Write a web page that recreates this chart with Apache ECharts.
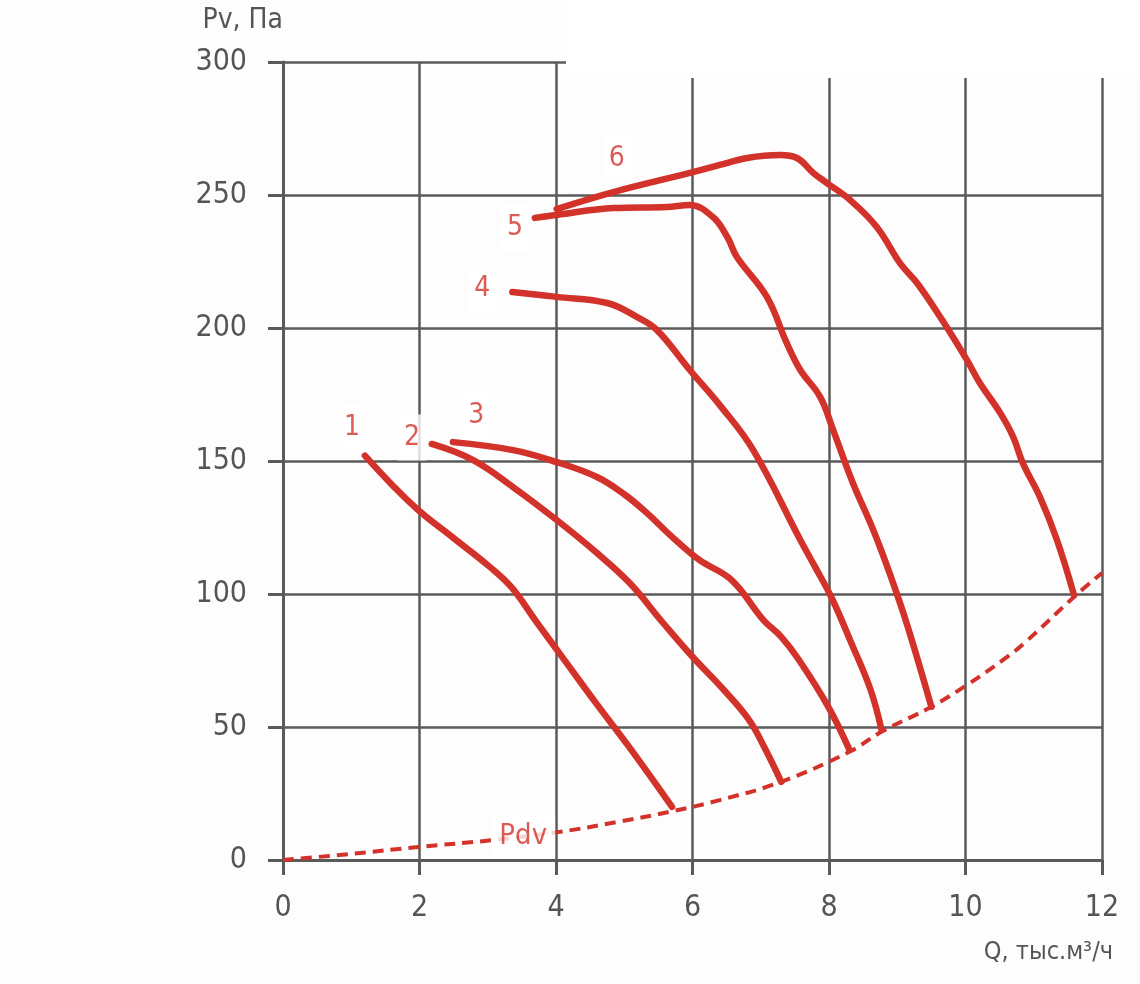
<!DOCTYPE html>
<html>
<head>
<meta charset="utf-8">
<script src="https://cdn.jsdelivr.net/npm/echarts@6/dist/echarts.min.js"></script>
<style>
  html, body { margin: 0; padding: 0; background: #fdfdfd; }
  #chart { width: 1140px; height: 984px; }
</style>
</head>
<body>
<div id="chart"></div>
<script>
// Кривые характеристики, Q (тыс.м3/ч) / Pv (Па)
const curve1 = [[1.2, 152], [1.6, 141], [1.98, 131.6], [2.5, 121], [3.03, 110.2], [3.35, 102.5], [3.7, 90], [4.1, 76], [4.6, 58.5], [5.1, 41.5], [5.7, 20]];
const curve2 = [[2.18, 156.4], [2.78, 150.4], [3.37, 140.2], [4.01, 127.8], [4.6, 115.4], [5.08, 104.1], [5.57, 89.1], [6.0, 76.4], [6.46, 63.9], [6.83, 52.6], [7.06, 42], [7.3, 29.4]];
const curve3 = [[2.49, 157.1], [3.37, 154.1], [4.01, 149.6], [4.6, 144], [5.0, 137.5], [5.33, 130.5], [5.7, 121.5], [6.1, 112.8], [6.57, 105.3], [7.04, 90.2], [7.3, 83.9], [7.56, 75.2], [7.99, 57.6], [8.3, 41.4]];
const curve4 = [[3.36, 213.5], [4.01, 211.7], [4.75, 209.4], [5.19, 204.1], [5.48, 199.2], [5.96, 184.2], [6.4, 171], [6.89, 154.1], [7.58, 120.3], [7.8, 110], [8.04, 98.5], [8.33, 81.4], [8.61, 63.9], [8.77, 48.9]];
const curve5 = [[3.69, 241.4], [4.01, 242.5], [4.84, 245.1], [5.62, 245.5], [5.96, 246.2], [6.3, 241.7], [6.51, 234.2], [6.65, 226.7], [7.09, 211.7], [7.38, 194.4], [7.58, 184.2], [7.87, 174.1], [8.06, 161.7], [8.35, 141.7], [8.65, 124], [8.9, 107], [9.15, 88], [9.5, 57.6]];
const curve6 = [[4.01, 244.7], [4.84, 251.1], [5.96, 258.3], [6.4, 261.3], [6.8, 263.9], [7.28, 265], [7.53, 263.9], [7.77, 258.3], [7.97, 254.5], [8.31, 248.1], [8.7, 238], [9.04, 224.4], [9.29, 216.9], [9.63, 204.1], [10.02, 188], [10.21, 179.3], [10.51, 168], [10.7, 159], [10.84, 149.2], [11.09, 136.5], [11.34, 120.3], [11.59, 99.6]];
const pdv = [[0, 0], [1, 2.3], [1.98, 4.9], [3.08, 7.5], [4.06, 10.6], [4.9, 14.3], [5.68, 18.2], [6.41, 22.6], [7.3, 29.4], [8.3, 40.7], [8.77, 48.2], [9.5, 57.6], [10.02, 65.8], [10.55, 75.2], [10.86, 81.5], [11.62, 99.6], [12, 107.9]];

const curveNames = ['1', '2', '3', '4', '5', '6', 'Pdv'];
const labelPos = [[1.01, 162.6], [1.89, 158.8], [2.83, 166.9], [2.92, 214.7], [3.4, 237.6], [4.89, 263.5], [3.52, 9.0]];

const xTicks = [0, 2, 4, 6, 8, 10, 12];
const yTicks = [0, 50, 100, 150, 200, 250, 300];

const RED = '#d2322a';
const GRID = '#5a5a5a';
const FONT = "'Liberation Sans Narrow', 'DejaVu Sans Condensed', Roboto, sans-serif";

const chart = echarts.init(document.getElementById('chart'), null, { renderer: 'canvas' });

const curves = [curve1, curve2, curve3, curve4, curve5, curve6];
const series = curves.map((data, i) => ({
  name: curveNames[i],
  type: 'line',
  data,
  smooth: 0.4,
  showSymbol: false,
  lineStyle: { color: RED, width: 6.5, cap: 'round' },
  z: 3,
}));

series.push({
  name: 'Pdv',
  type: 'line',
  data: pdv,
  smooth: 0.4,
  showSymbol: false,
  lineStyle: { color: RED, width: 4, type: [11, 7] },
  z: 2,
});

// подписи кривых
series.push({
  type: 'scatter',
  data: labelPos.map((p, i) => ({
    value: p,
    name: curveNames[i],
    label: i === 6 ? { fontSize: 29, padding: [6, 8] } : undefined,
  })),
  symbolSize: 0,
  z: 5,
  label: {
    show: true,
    position: 'inside',
    formatter: (p) => p.name,
    color: RED,
    fontFamily: FONT,
    fontSize: 28,
    backgroundColor: '#ffffff',
    padding: [9, 6],
  },
});

const option = {
  backgroundColor: '#fdfdfd',
  animation: false,
  grid: { left: 283, top: 62, width: 819, height: 798, containLabel: false },
  xAxis: {
    type: 'value',
    min: xTicks[0],
    max: xTicks[xTicks.length - 1],
    interval: 2,
    axisLine: { show: true, onZero: false, lineStyle: { color: GRID, width: 3 } },
    axisTick: { show: true, length: 15, lineStyle: { color: GRID, width: 3 } },
    splitLine: { show: true, lineStyle: { color: GRID, width: 2.5 } },
    axisLabel: { color: '#555', fontFamily: FONT, fontSize: 30, margin: 33 },
  },
  yAxis: {
    type: 'value',
    min: yTicks[0],
    max: yTicks[yTicks.length - 1],
    interval: 50,
    name: 'Pv, Па',
    nameLocation: 'end',
    nameGap: 41,
    nameTextStyle: { color: '#555', fontFamily: FONT, fontSize: 28, align: 'right', verticalAlign: 'middle' },
    axisLine: { show: true, onZero: false, lineStyle: { color: GRID, width: 3 } },
    axisTick: { show: true, length: 15, lineStyle: { color: GRID, width: 3 } },
    splitLine: { show: true, lineStyle: { color: GRID, width: 2.5 } },
    axisLabel: { color: '#555', fontFamily: FONT, fontSize: 30, margin: 36 },
  },
  graphic: [
    {
      type: 'rect',
      shape: { x: 566, y: 0, width: 574, height: 78 },
      style: { fill: '#ffffff' },
      z: 10,
    },
    {
      type: 'text',
      x: 1113,
      y: 952,
      style: {
        text: 'Q, тыс.м³/ч',
        fill: '#555',
        font: '25px ' + FONT,
        align: 'right',
        verticalAlign: 'middle',
      },
      z: 10,
    },
  ],
  series,
};

chart.setOption(option);
</script>
</body>
</html>
